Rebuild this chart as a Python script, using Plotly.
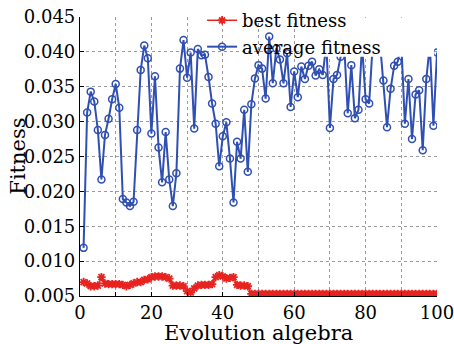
import plotly.graph_objects as go

generations = list(range(1, 101))

best_fitness = [
    0.0070, 0.0068, 0.0064, 0.0064, 0.0065, 0.0077, 0.0068, 0.0067, 0.0067, 0.0067,
    0.0067, 0.0066, 0.0064, 0.0066, 0.0068, 0.0070, 0.0070, 0.0073, 0.0074, 0.0077,
    0.0078, 0.0078, 0.0078, 0.0077, 0.0075, 0.0065, 0.0065, 0.0065, 0.0064, 0.0057,
    0.0055, 0.0061, 0.0065, 0.0066, 0.0066, 0.0066, 0.0067, 0.0077, 0.0080, 0.0078,
    0.0075, 0.0076, 0.0077, 0.0066, 0.0065, 0.0065, 0.0064, 0.0053, 0.0053, 0.0053,
] + [0.0053] * 50

average_fitness = [
    0.0119, 0.0313, 0.0343, 0.0329, 0.0288, 0.0217, 0.0281, 0.0304, 0.0332, 0.0354,
    0.0320, 0.0189, 0.0184, 0.0179, 0.0185, 0.0288, 0.0374, 0.0409, 0.0391, 0.0283,
    0.0365, 0.0263, 0.0213, 0.0285, 0.0217, 0.0179, 0.0226, 0.0376, 0.0417, 0.0363,
    0.0399, 0.0290, 0.0404, 0.0395, 0.0396, 0.0364, 0.0326, 0.0297, 0.0236, 0.0279,
    0.0299, 0.0247, 0.0184, 0.0271, 0.0247, 0.0317, 0.0228, 0.0325, 0.0362, 0.0381,
    0.0376, 0.0333, 0.0422, 0.0355, 0.0405, 0.0389, 0.0355, 0.0398, 0.0321, 0.0372,
    0.0335, 0.0379, 0.0361, 0.0380, 0.0386, 0.0366, 0.0375, 0.0367, 0.0412, 0.0291,
    0.0361, 0.0367, 0.0393, 0.0410, 0.0312, 0.0381, 0.0305, 0.0317, 0.0410, 0.0332,
    0.0326, 0.0412, 0.0405, 0.0415, 0.0359, 0.0292, 0.0347, 0.0380, 0.0386, 0.0412,
    0.0297, 0.0361, 0.0275, 0.0339, 0.0345, 0.0259, 0.0361, 0.0410, 0.0294, 0.0399,
]

x_tickvals = list(range(0, 101, 10))
x_ticktext = ["0", "", "20", "", "40", "", "60", "", "80", "", "100"]
y_tickvals = [0.005, 0.010, 0.015, 0.020, 0.025, 0.030, 0.035, 0.040, 0.045]
y_ticktext = ["0.005", "0.010", "0.015", "0.020", "0.025", "0.030", "0.035", "0.040", "0.045"]

RED = "#e8231f"
BLUE = "#2f4fb3"
FONT = "DejaVu Serif"

fig = go.Figure()
fig.add_trace(go.Scatter(
    x=generations, y=best_fitness, name="best fitness", mode="lines+markers",
    line=dict(color=RED, width=1.5),
    marker=dict(symbol="asterisk-open", size=7, color=RED, line=dict(color=RED, width=1.8)),
))
fig.add_trace(go.Scatter(
    x=generations, y=average_fitness, name="average fitness", mode="lines+markers",
    line=dict(color=BLUE, width=2),
    marker=dict(symbol="circle-open", size=7, color=BLUE, line=dict(color=BLUE, width=1.5)),
))

# white area of the legend box that hides the tops of the curve
fig.add_shape(type="rect", xref="x", yref="y", x0=61.5, x1=99.2, y0=0.0393, y1=0.0449,
              fillcolor="white", line=dict(width=0), layer="above")

# axis titles as annotations for exact placement
fig.add_annotation(text="Evolution algebra", xref="paper", yref="paper", x=0.5, y=-0.133,
                   xanchor="center", yanchor="middle", showarrow=False,
                   font=dict(family=FONT, size=21, color="black"))
fig.add_annotation(text="Fitness", xref="paper", yref="paper", x=-0.176, y=0.5,
                   xanchor="center", yanchor="middle", showarrow=False, textangle=-90,
                   font=dict(family=FONT, size=21, color="black"))

fig.update_layout(
    width=454, height=344,
    margin=dict(l=80, r=17, t=17, b=48, autoexpand=False),
    paper_bgcolor="white", plot_bgcolor="white",
    font=dict(family=FONT, size=18, color="black"),
    showlegend=True,
    legend=dict(x=0.342, y=0.994, xanchor="left", yanchor="top", yref="container",
                bgcolor="rgba(255,255,255,0)", borderwidth=0,
                font=dict(family=FONT, size=18), tracegroupgap=0,
                itemwidth=30),
    xaxis=dict(range=[0, 100], tickvals=x_tickvals, ticktext=x_ticktext,
               showgrid=True, gridcolor="#9a9a9a", griddash="dot", gridwidth=1,
               showline=True, linecolor="black", linewidth=1.2, mirror=False,
               ticks="inside", ticklen=4, tickcolor="black", zeroline=False,
               automargin=False, ticklabeloverflow="allow"),
    yaxis=dict(range=[0.005, 0.045], tickvals=y_tickvals, ticktext=y_ticktext,
               showgrid=True, gridcolor="#9a9a9a", griddash="dot", gridwidth=1,
               showline=True, linecolor="black", linewidth=1.2, mirror=False,
               ticks="inside", ticklen=4, tickcolor="black", zeroline=False,
               automargin=False, ticklabeloverflow="allow"),
)

fig.write_html("out.html", config={"displayModeBar": False},
               post_script="document.body.style.margin='0px';")
